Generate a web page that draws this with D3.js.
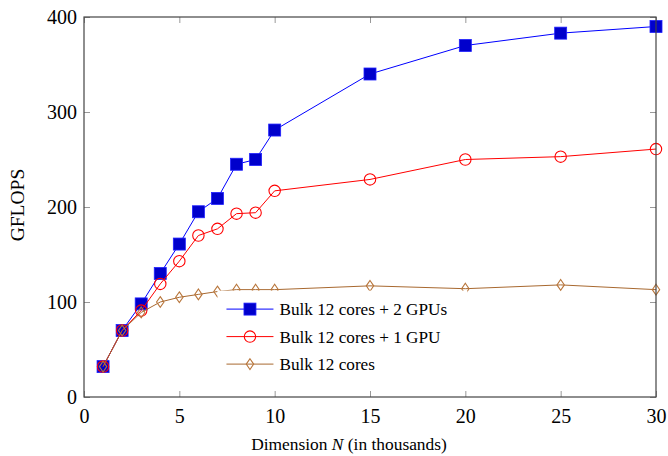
<!DOCTYPE html>
<html>
<head>
<meta charset="utf-8">
<script src="https://cdn.jsdelivr.net/npm/d3@7"></script>
<style>
  body { margin: 0; background: #fff; }
  svg text { font-family: "Liberation Serif", "Times New Roman", Times, "DejaVu Serif", serif !important; fill: #000; }
</style>
</head>
<body>
<script>
// Данные.
const dims = [1, 2, 3, 4, 5, 6, 7, 8, 9, 10, 15, 20, 25, 30];
const gpu2 = [32, 70, 98, 130, 161, 195, 209, 245, 250, 281, 340, 370, 383, 390];
const gpu1 = [32, 70, 91, 119, 143, 170, 177, 193, 194, 217, 229, 250, 253, 261];
const cores = [32, 70, 89, 100, 105, 108, 111, 113, 113, 113, 117, 114, 118, 113];
const seriesNames = ['Bulk 12 cores + 2 GPUs', 'Bulk 12 cores + 1 GPU', 'Bulk 12 cores'];
const xTicks = [0, 5, 10, 15, 20, 25, 30];
const yTicks = [0, 100, 200, 300, 400];

const serif = '"Liberation Serif", "Times New Roman", Times, serif';
const margin = { top: 17, right: 12, bottom: 59, left: 84 };
const width = 668 - margin.left - margin.right;
const height = 456 - margin.top - margin.bottom;

const svg = d3.select('body').append('svg')
  .attr('width', 668)
  .attr('height', 456)
  .attr('font-family', serif);
const root = svg.append('g')
  .attr('transform', `translate(${margin.left},${margin.top})`);

const x = d3.scaleLinear().domain([0, 30]).range([0, width]);
const y = d3.scaleLinear().domain([0, 400]).range([height, 0]);

// Деления внутрь рамки, на всех четырёх сторонах.
function ticks(axis, tr) {
  const g = root.append('g').attr('transform', tr).call(axis);
  g.attr('font-family', serif);
  g.select('.domain').remove();
  g.selectAll('line').attr('stroke', '#999');
  return g;
}
const bottom = ticks(d3.axisBottom(x).tickValues(xTicks).tickSize(-6).tickPadding(12), `translate(0,${height})`);
bottom.selectAll('text').attr('font-size', 20);
const left = ticks(d3.axisLeft(y).tickValues(yTicks).tickSize(-6).tickPadding(7), null);
left.selectAll('text').attr('font-size', 20).attr('dy', '0.32em');
ticks(d3.axisTop(x).tickValues(xTicks).tickSize(-6).tickFormat(''), null);
ticks(d3.axisRight(y).tickValues(yTicks).tickSize(-6).tickFormat(''), `translate(${width},0)`);

const series = [
  { name: seriesNames[0], values: gpu2, line: '#0000ff', marker: 'square' },
  { name: seriesNames[1], values: gpu1, line: '#ff0000', marker: 'circle' },
  { name: seriesNames[2], values: cores, line: '#a8682f', marker: 'diamond' }
];

function drawMarker(sel, s) {
  if (s.marker === 'square') {
    sel.append('rect').attr('x', -6).attr('y', -6).attr('width', 12).attr('height', 12)
      .attr('fill', '#0000cc').attr('stroke', '#2020ff').attr('stroke-width', 0.8);
  } else if (s.marker === 'circle') {
    sel.append('circle').attr('r', 5.7).attr('fill', 'none').attr('stroke', '#ff0000').attr('stroke-width', 1.1);
  } else {
    sel.append('path').attr('d', 'M0,-5.4L3.7,0L0,5.4L-3.7,0Z')
      .attr('fill', 'none').attr('stroke', '#b8753a').attr('stroke-width', 1.1);
  }
}

const line = d3.line().x((d, i) => x(dims[i])).y(d => y(d));
series.forEach(s => {
  const g = root.append('g');
  g.append('path').attr('d', line(s.values)).attr('fill', 'none')
    .attr('stroke', s.line).attr('stroke-width', 1);
  g.selectAll('g').data(s.values).enter().append('g')
    .attr('transform', (d, i) => `translate(${x(dims[i])},${y(d)})`)
    .each(function () { drawMarker(d3.select(this), s); });
});

// Легенда с белым фоном, без рамки.
const legend = root.append('g').attr('transform', `translate(${x(7.0)},${y(112)})`);
legend.append('rect').attr('width', 250).attr('height', 92).attr('fill', '#fff');
series.forEach((s, i) => {
  const row = legend.append('g').attr('transform', `translate(4,${18.5 + i * 27.5})`);
  row.append('line').attr('x1', 5).attr('x2', 52).attr('stroke', s.line).attr('stroke-width', 1);
  drawMarker(row.append('g').attr('transform', 'translate(28.5,0)'), s);
  row.append('text').attr('x', 58).attr('dy', '0.35em').attr('font-size', 17.2).text(s.name);
});

// Рамка.
root.append('rect').attr('width', width).attr('height', height)
  .attr('fill', 'none').attr('stroke', '#444').attr('stroke-width', 1.2);

// Подписи осей.
const xl = svg.append('text').attr('x', 349).attr('y', 450)
  .attr('text-anchor', 'middle').attr('font-size', 17.4);
xl.append('tspan').text('Dimension ');
xl.append('tspan').attr('font-style', 'italic').text('N');
xl.append('tspan').text(' (in thousands)');

svg.append('text').attr('transform', `translate(24,205) rotate(-90)`)
  .attr('text-anchor', 'middle').attr('font-size', 19.5).text('GFLOPS');
</script>
</body>
</html>
